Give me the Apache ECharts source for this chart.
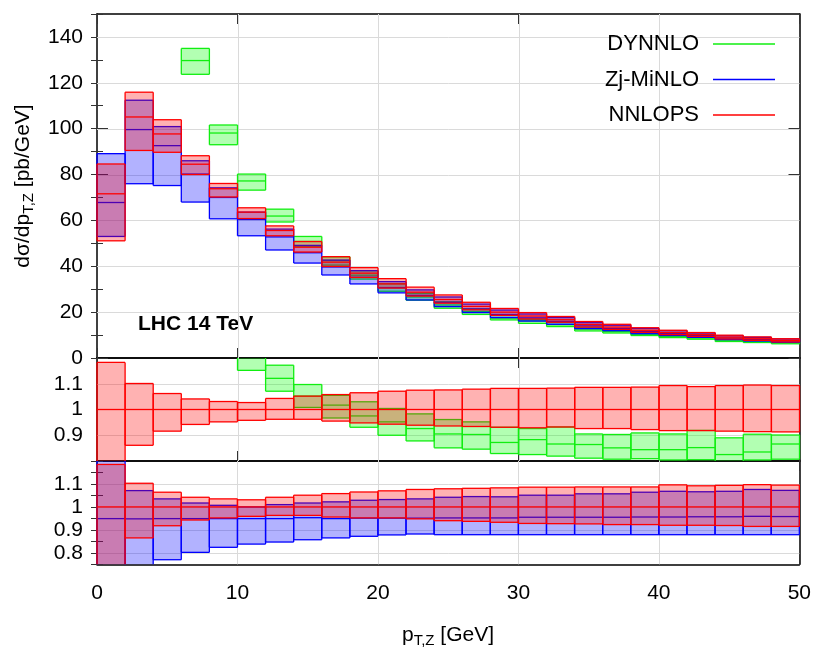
<!DOCTYPE html>
<html>
<head>
<meta charset="utf-8">
<script src="https://cdn.jsdelivr.net/npm/echarts@6/dist/echarts.min.js"></script>
<style>
html,body{margin:0;padding:0;background:#ffffff;}
#chart{width:814px;height:650px;}
</style>
</head>
<body>
<div id="chart"></div>
<script>
// ---------- data ----------
const binEdges = [0,2,4,6,8,10,12,14,16,18,20,22,24,26,28,30,32,34,36,38,40,42,44,46,48,50];

// main panel: d sigma / d pT  [pb/GeV]
const nnlopsCen = [71.6,105.1,97.7,84.5,73.8,63.6,55.6,48.3,41.8,37.0,32.3,28.7,25.5,22.5,20.0,18.3,16.7,14.6,13.5,12.1,11.1,10.2,9.1,8.4,7.7];
const nnlopsLo  = [51.1,90.5,89.7,80.0,70.2,60.8,53.3,46.2,39.9,35.1,30.5,27.0,23.9,21.0,18.6,17.0,15.6,13.5,12.5,11.2,10.2,9.4,8.3,7.7,7.0];
const nnlopsHi  = [84.6,115.9,103.9,88.2,76.1,65.5,57.6,50.8,44.2,39.4,34.6,30.9,27.5,24.3,21.6,19.8,18.1,15.9,14.7,13.2,12.1,11.1,9.95,9.2,8.4];

const zjCen = [67.8,99.6,92.6,80.2,70.0,60.4,52.8,45.9,39.7,35.2,30.7,27.3,24.3,21.4,19.0,17.5,16.0,14.0,12.9,11.6,10.6,9.8,8.7,8.0,7.4];
const zjLo  = [53.0,76.0,75.2,68.0,60.7,53.3,47.1,41.4,36.2,32.3,28.4,25.3,22.4,19.8,17.6,16.1,14.7,12.8,11.9,10.6,9.8,9.0,8.0,7.4,6.8];
const zjHi  = [89.1,112.4,100.9,86.0,74.2,63.6,56.2,49.1,42.7,38.1,33.3,29.7,26.6,23.5,20.9,19.2,17.6,15.4,14.3,12.9,11.9,10.9,9.7,9.0,8.3];

const dyCen = [null,null,null,129.7,98.1,77.2,61.9,50.8,42.5,36.1,30.7,26.6,23.1,20.3,17.4,16.2,14.5,12.6,11.5,10.2,9.4,8.7,7.5,7.0,6.7];
const dyLo  = [null,null,null,123.7,93.0,73.2,59.3,48.7,40.5,34.4,29.1,25.2,21.7,19.0,16.6,15.1,13.7,11.8,10.9,9.8,8.9,8.2,7.2,6.75,6.2];
const dyHi  = [null,null,null,135.0,101.6,80.2,64.9,53.0,44.1,38.1,32.4,28.2,24.5,21.4,18.6,16.9,15.6,13.2,12.2,11.0,10.0,9.4,8.1,7.6,6.9];

// ratio panel 1 (to NNLOPS central): NNLOPS band and DYNNLO
const r1NnlopsCen = [1,1,1,1,1,1,1,1,1,1,1,1,1,1,1,1,1,1,1,1,1,1,1,1,1];
const r1NnlopsLo  = [0.714,0.861,0.916,0.942,0.952,0.958,0.962,0.962,0.955,0.948,0.943,0.939,0.936,0.934,0.931,0.929,0.932,0.926,0.926,0.922,0.918,0.918,0.916,0.914,0.913];
const r1NnlopsHi  = [1.183,1.101,1.062,1.041,1.031,1.027,1.043,1.052,1.058,1.065,1.071,1.075,1.076,1.079,1.082,1.082,1.083,1.086,1.086,1.087,1.093,1.089,1.093,1.095,1.093];
const r1DyCen = [null,null,null,null,null,1.21,1.121,1.052,1.017,0.975,0.952,0.926,0.905,0.903,0.872,0.883,0.866,0.864,0.851,0.844,0.844,0.852,0.825,0.835,0.866];
const r1DyLo  = [null,null,null,null,null,1.152,1.071,1.008,0.967,0.931,0.900,0.878,0.851,0.846,0.829,0.825,0.819,0.811,0.807,0.809,0.804,0.805,0.790,0.804,0.807];
const r1DyHi  = [null,null,null,null,null,1.26,1.172,1.097,1.055,1.030,1.004,0.983,0.961,0.952,0.931,0.926,0.932,0.905,0.903,0.909,0.905,0.919,0.890,0.904,0.901];

// ratio panel 2 (to NNLOPS central): NNLOPS band and Zj-MiNLO
const r2NnlopsCen = [1,1,1,1,1,1,1,1,1,1,1,1,1,1,1,1,1,1,1,1,1,1,1,1,1];
const r2NnlopsLo  = [0.714,0.865,0.918,0.943,0.952,0.959,0.963,0.963,0.956,0.952,0.952,0.948,0.940,0.937,0.933,0.928,0.927,0.926,0.923,0.923,0.920,0.920,0.919,0.915,0.915];
const r2NnlopsHi  = [1.185,1.103,1.064,1.042,1.035,1.031,1.042,1.051,1.058,1.065,1.070,1.076,1.079,1.081,1.083,1.086,1.086,1.087,1.087,1.087,1.096,1.092,1.094,1.097,1.095];
const r2ZjCen = [0.949,0.948,0.949,0.949,0.949,0.949,0.949,0.953,0.949,0.951,0.951,0.951,0.952,0.952,0.952,0.955,0.955,0.955,0.955,0.956,0.956,0.957,0.957,0.959,0.958];
const r2ZjLo  = [0.740,0.723,0.770,0.802,0.824,0.838,0.847,0.857,0.865,0.872,0.878,0.882,0.879,0.879,0.879,0.879,0.879,0.879,0.879,0.879,0.879,0.879,0.879,0.879,0.879];
const r2ZjHi  = [1.244,1.071,1.035,1.017,1.007,1.000,1.010,1.017,1.022,1.029,1.032,1.035,1.042,1.045,1.044,1.051,1.051,1.057,1.057,1.064,1.068,1.066,1.068,1.076,1.072];

// tick labels
const xTicks = [0,10,20,30,40,50];
const mainTicksMajor = [0,20,40,60,80,100,120,140];
const mainTicksMinor = [0,10,20,30,40,50,60,70,80,90,100,110,120,130,140,150];
const r1Ticks = [0.9,1,1.1];
const r2TicksMajor = [0.8,0.9,1,1.1];
const r2TicksMinor = [0.75,0.8,0.85,0.9,0.95,1,1.05,1.1,1.15,1.2];

const seriesNames = ['DYNNLO','Zj-MiNLO','NNLOPS'];

// ---------- styling ----------
const FONT = "'Liberation Sans', Arial, Helvetica, sans-serif";
const COL = {
  green: {line:'#11ee11', fill:'rgba(0,255,0,0.3)'},
  blue:  {line:'#0000ff', fill:'rgba(0,0,255,0.3)'},
  red:   {line:'#ff0000', fill:'rgba(255,0,0,0.3)'}
};
const GRID_LEFT = 97, GRID_W = 702.5;

function bandData(lo, cen, hi) {
  const out = [];
  for (let i = 0; i < binEdges.length - 1; i++) {
    if (lo[i] == null || hi[i] == null) continue;
    out.push([binEdges[i], binEdges[i + 1], lo[i], cen[i], hi[i]]);
  }
  return out;
}

function makeRender(c) {
  return function (params, api) {
    const x0 = api.value(0), x1 = api.value(1);
    const lo = api.value(2), cen = api.value(3), hi = api.value(4);
    const cs = params.coordSys;
    const pTop = api.coord([x0, hi]);
    const pBot = api.coord([x1, lo]);
    const yMin = cs.y, yMax = cs.y + cs.height;
    const top = Math.max(pTop[1], yMin);
    const bot = Math.min(pBot[1], yMax);
    if (bot <= top) return null;
    const left = pTop[0], right = pBot[0];
    const ls = {stroke: c.line, lineWidth: 1.3, fill: null};
    const children = [
      {type:'rect', shape:{x:left, y:top, width:right-left, height:bot-top}, style:{fill:c.fill, stroke:null}},
      {type:'line', shape:{x1:left, y1:top, x2:left, y2:bot}, style:ls},
      {type:'line', shape:{x1:right, y1:top, x2:right, y2:bot}, style:ls}
    ];
    if (pTop[1] >= yMin) children.push({type:'line', shape:{x1:left, y1:top, x2:right, y2:top}, style:ls});
    if (pBot[1] <= yMax) children.push({type:'line', shape:{x1:left, y1:bot, x2:right, y2:bot}, style:ls});
    if (!isNaN(cen)) {
      const yc = api.coord([x0, cen])[1];
      if (yc >= yMin && yc <= yMax) children.push({type:'line', shape:{x1:left, y1:yc, x2:right, y2:yc}, style:ls});
    }
    return {type:'group', children: children};
  };
}

function bandSeries(name, xi, yi, c, data) {
  return {
    type: 'custom', name: name, xAxisIndex: xi, yAxisIndex: yi,
    renderItem: makeRender(c),
    itemStyle: {color: c.line},
    encode: {x: [0, 1], y: [2, 3, 4]},
    data: data,
    silent: true, animation: false
  };
}

// grid lines at the major tick values, drawn through the axes' scales
function gridLineRender(params, api) {
  const v = api.value(0), kind = api.value(1);
  const cs = params.coordSys;
  const st = {stroke: '#dadada', lineWidth: 1, fill: null};
  if (kind < 0.5) {
    const px = Math.round(api.coord([v, 0])[0]) + 0.5;
    if (px <= cs.x + 2 || px >= cs.x + cs.width - 2) return null;
    return {type:'line', shape:{x1:px, y1:cs.y, x2:px, y2:cs.y + cs.height}, style: st};
  }
  const py = Math.round(api.coord([0, v])[1]) + 0.5;
  if (py <= cs.y + 2 || py >= cs.y + cs.height - 2) return null;
  return {type:'line', shape:{x1:cs.x, y1:py, x2:cs.x + cs.width, y2:py}, style: st};
}
function gridLineSeries(xi, yi, yTicks) {
  const data = xTicks.map(v => [v, 0]).concat(yTicks.map(v => [v, 1]));
  return {type:'custom', name:'grid', xAxisIndex: xi, yAxisIndex: yi, renderItem: gridLineRender,
          data: data, silent: true, animation: false, z: 1};
}

const frameLine = {show: true, onZero: false, lineStyle: {color: '#000', width: 1.5}};
const labelStyle = {color: '#000', fontSize: 21, fontFamily: FONT};

function xAxes(gridIndex, withLabels) {
  return [
    {type:'value', gridIndex, position:'bottom', min:0, max:50, interval:10,
     axisLine: frameLine,
     axisTick: {show:true, inside:true, length:10, lineStyle:{color:'#333', width:1}},
     axisLabel: Object.assign({show: withLabels, margin: 18}, labelStyle),
     splitLine: {show:false}},
    {type:'value', gridIndex, position:'top', min:0, max:50, interval:10,
     axisLine: frameLine,
     axisTick: {show:true, inside:true, length:10, lineStyle:{color:'#333', width:1}},
     axisLabel: {show:false}, splitLine: {show:false}}
  ];
}

function yMajor(gridIndex, pos, min, max, ticks, withLabels) {
  return {type:'value', gridIndex, position: pos, min, max,
    axisLine: frameLine,
    axisTick: {show:true, inside:true, length:11, customValues: ticks, lineStyle:{color:'#333', width:1}},
    axisLabel: Object.assign({show: withLabels, margin: 14, customValues: ticks}, labelStyle),
    splitLine: {show:false}};
}
function yMinor(gridIndex, pos, min, max, ticks) {
  return {type:'value', gridIndex, position: pos, min, max,
    axisLine: {show:false},
    axisTick: {show:true, inside:true, length:6, customValues: ticks, lineStyle:{color:'#333', width:1}},
    axisLabel: {show:false}, splitLine: {show:false}};
}

const option = {
  animation: false,
  backgroundColor: '#ffffff',
  textStyle: {fontFamily: FONT},
  grid: [
    {left: GRID_LEFT, width: GRID_W, top: 14, height: 344},
    {left: GRID_LEFT, width: GRID_W, top: 358, height: 103},
    {left: GRID_LEFT, width: GRID_W, top: 461, height: 103.3}
  ],
  xAxis: [].concat(xAxes(0, false), xAxes(1, false), xAxes(2, true)),
  yAxis: [
    yMajor(0, 'left', 0, 150, mainTicksMajor, true),
    yMajor(0, 'right', 0, 150, mainTicksMajor, false),
    yMinor(0, 'left', 0, 150, mainTicksMinor),
    yMinor(0, 'right', 0, 150, mainTicksMinor),
    yMajor(1, 'left', 0.8, 1.2, r1Ticks, true),
    yMajor(1, 'right', 0.8, 1.2, r1Ticks, false),
    yMajor(2, 'left', 0.75, 1.2, r2TicksMajor, true),
    yMajor(2, 'right', 0.75, 1.2, r2TicksMajor, false),
    yMinor(2, 'left', 0.75, 1.2, r2TicksMinor),
    yMinor(2, 'right', 0.75, 1.2, r2TicksMinor)
  ],
  legend: {
    data: [
      {name: seriesNames[0], itemStyle: {color: COL.green.line}},
      {name: seriesNames[1], itemStyle: {color: COL.blue.line}},
      {name: seriesNames[2], itemStyle: {color: COL.red.line}}
    ],
    orient: 'vertical', right: 34, top: 28, align: 'right',
    icon: 'rect', itemWidth: 62, itemHeight: 1.5, itemGap: 13.5,
    selectedMode: false,
    textStyle: {color: '#000', fontSize: 22, fontFamily: FONT, padding: [0, 9, 0, 0]}
  },
  graphic: [
    {type:'text', x: 23, y: 186, rotation: Math.PI / 2,
     style: {text: '{n|dσ/dp}{s|T,Z}{n| [pb/GeV]}', align: 'center', verticalAlign: 'middle',
       rich: {n: {fontSize: 21, fontFamily: FONT, fill: '#000', lineHeight: 26},
              s: {fontSize: 15, fontFamily: FONT, fill: '#000', lineHeight: 15, verticalAlign: 'bottom'}}}},
    {type:'text', x: 448, y: 635,
     style: {text: '{n|p}{s|T,Z}{n| [GeV]}', align: 'center', verticalAlign: 'middle',
       rich: {n: {fontSize: 21, fontFamily: FONT, fill: '#000', lineHeight: 26},
              s: {fontSize: 15, fontFamily: FONT, fill: '#000', lineHeight: 15, verticalAlign: 'bottom'}}}},
    {type:'text', x: 138, y: 324,
     style: {text: 'LHC 14 TeV', fontSize: 21, fontWeight: 'bold', fontFamily: FONT, fill: '#000',
       align: 'left', verticalAlign: 'middle'}}
  ],
  series: [
    gridLineSeries(0, 0, mainTicksMajor),
    gridLineSeries(2, 4, r1Ticks),
    gridLineSeries(4, 6, r2TicksMajor),
    bandSeries(seriesNames[0], 0, 0, COL.green, bandData(dyLo, dyCen, dyHi)),
    bandSeries(seriesNames[1], 0, 0, COL.blue,  bandData(zjLo, zjCen, zjHi)),
    bandSeries(seriesNames[2], 0, 0, COL.red,   bandData(nnlopsLo, nnlopsCen, nnlopsHi)),
    bandSeries('DYNNLO/NNLOPS', 2, 4, COL.green, bandData(r1DyLo, r1DyCen, r1DyHi)),
    bandSeries('NNLOPS/NNLOPS (1)', 2, 4, COL.red, bandData(r1NnlopsLo, r1NnlopsCen, r1NnlopsHi)),
    bandSeries('Zj-MiNLO/NNLOPS', 4, 6, COL.blue, bandData(r2ZjLo, r2ZjCen, r2ZjHi)),
    bandSeries('NNLOPS/NNLOPS (2)', 4, 6, COL.red, bandData(r2NnlopsLo, r2NnlopsCen, r2NnlopsHi))
  ]
};

const chart = echarts.init(document.getElementById('chart'), null, {renderer: 'canvas'});
chart.setOption(option);
</script>
</body>
</html>
